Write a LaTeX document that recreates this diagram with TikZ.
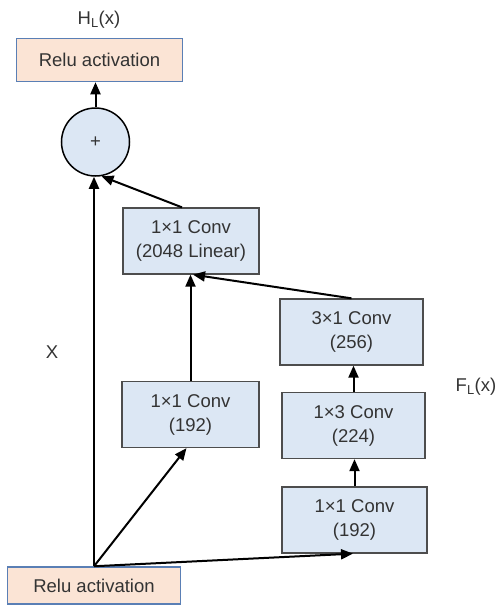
\documentclass[tikz,border=0pt]{standalone}
\usepackage{fontspec}
\setmainfont{Liberation Sans}
\usetikzlibrary{arrows.meta}
\definecolor{convfill}{HTML}{DCE7F4}
\definecolor{relufill}{HTML}{FBE4D5}
\definecolor{reluline}{HTML}{5A7FB5}
\definecolor{convline}{HTML}{4D4D4D}
\definecolor{txt}{HTML}{333333}
\begin{document}
\begin{tikzpicture}[x=1pt,y=-1pt,
  every node/.style={font=\fontsize{18.5}{24}\selectfont,text=txt,align=center,inner sep=0pt},
  relubox/.style={draw=reluline,fill=relufill,line width=1.5pt,minimum height=#1},
  convbox/.style={draw=convline,fill=convfill,line width=1.3pt,minimum height=66pt},
  arr/.style={line width=2pt,-{Triangle[length=12pt,width=10pt]}}]
\useasboundingbox (0,0) rectangle (498,606);
% boxes
\node[relubox=43pt,minimum width=166pt] (relutop) at (99.5,60) {Relu activation};
\node[relubox=37pt,minimum width=173pt] (relubot) at (94,585.5) {Relu activation};
\node[circle,draw=black,fill=convfill,line width=1.5pt,minimum size=68pt] (plus) at (95.5,142) {+};
\node[convbox,minimum width=136pt] (lin) at (191,241) {1×1 Conv\\(2048 Linear)};
\node[convbox,minimum width=137pt] (cva) at (190.5,414.5) {1×1 Conv\\(192)};
\node[convbox,minimum width=143pt] (cvc) at (351.5,332) {3×1 Conv\\(256)};
\node[convbox,minimum width=143pt] (cvb) at (353.5,425.5) {1×3 Conv\\(224)};
\node[convbox,minimum width=145pt] (cvd) at (354.5,520) {1×1 Conv\\(192)};
% labels
\node (hl) at (99,20) {H\textsubscript{L}(x)};
\node (xl) at (52,352) {X};
\node (fl) at (476,387) {F\textsubscript{L}(x)};
% connectors
\draw[arr] (relubot.north) -- (relubot.north |- plus.south);
\draw[arr] (relubot.north) -- ([xshift=-4pt]cva.south);
\draw[arr] (relubot.north) -- ([xshift=-1.5pt]cvd.south);
\draw[arr] (cva.north) -- (cva.north |- lin.south);
\draw[arr] (cvc.north) -- ([xshift=2pt]lin.south);
\draw[arr] (cvd.north) -- (cvd.north |- cvb.south);
\draw[arr] (cvb.north) -- (cvb.north |- cvc.south);
\draw[arr] ([xshift=-9pt]lin.north) -- (plus.-80);
\draw[arr] (plus.north) -- (plus.north |- relutop.south);
\end{tikzpicture}
\end{document}
